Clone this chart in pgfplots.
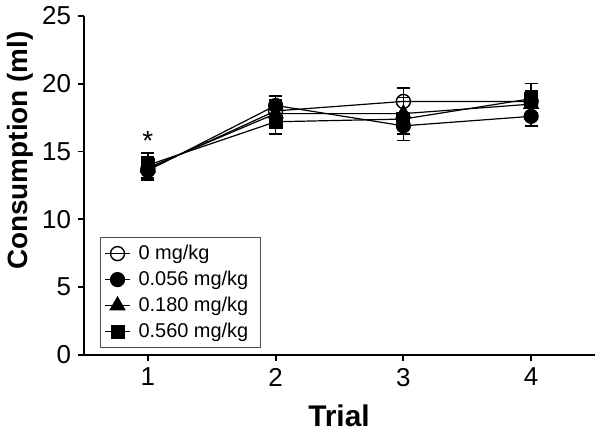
\documentclass[border=0pt]{standalone}
\usepackage{fontspec}
\setmainfont{Liberation Sans}
\usepackage{pgfplots}
\pgfplotsset{compat=1.18}
\begin{document}
\begin{tikzpicture}
\useasboundingbox (0,0) rectangle (301bp,218bp);
\begin{axis}[
  at={(42bp,40.5bp)}, anchor=south west,
  scale only axis, width=255.5bp, height=169.5bp,
  xmin=0.5, xmax=4.5, ymin=0, ymax=25,
  axis x line=bottom, axis y line=left,
  axis line style={-, line width=1bp},
  xtick={1,2,3,4}, ytick={0,5,10,15,20,25},
  tick align=outside, major tick length=3bp,
  tick style={line width=0.9bp, black},
  /pgf/number format/assume math mode=true,
  ticklabel style={font=\fontsize{13}{15}\selectfont},
  xlabel={\textbf{Trial}}, ylabel={\textbf{Consumption (ml)}},
  xlabel style={at={(axis description cs:0.499,-0.18)}, anchor=center, font=\fontsize{15}{17}\selectfont},
  ylabel style={at={(axis description cs:-0.125,0.603)}, anchor=center, rotate=0, font=\fontsize{14}{16}\selectfont},
  legend style={at={(axis description cs:0.031,0.021)}, anchor=south west,
    font=\fontsize{10}{12}\selectfont, draw=black!70, line width=0.6bp,
    row sep=0.3bp, inner xsep=2bp, inner ysep=1.5bp,
    nodes={inner xsep=4bp}},
  legend cell align=left,
  legend image code/.code={\draw[mark repeat=2,mark phase=2] plot coordinates {(0cm,0cm)(0.22cm,0cm)(0.44cm,0cm)};},
  error bars/error bar style={line width=0.7bp, black},
  error bars/error mark options={rotate=90, mark size=3.3bp, line width=0.7bp, black},
]
\addplot[black, line width=0.6bp, mark=o, mark size=3.5bp, mark options={solid, fill=white, line width=0.7bp},
  error bars/.cd, y dir=both, y explicit]
  coordinates {(1,13.7) +- (0,0.8) (2,18.0) +- (0,0.8) (3,18.7) +- (0,1.0) (4,18.7) +- (0,0.8)};
\addlegendentry{0 mg/kg}
\addplot[black, line width=0.6bp, mark=*, mark size=3.5bp, mark options={solid, fill=black},
  error bars/.cd, y dir=both, y explicit]
  coordinates {(1,13.6) +- (0,0.7) (2,18.4) +- (0,0.7) (3,16.9) +- (0,0.6) (4,17.6) +- (0,0.7)};
\addlegendentry{0.056 mg/kg}
\addplot[black, line width=0.6bp, mark=triangle*, mark size=4.2bp, mark options={solid, fill=black},
  error bars/.cd, y dir=both, y explicit]
  coordinates {(1,13.8) +- (0,0.8) (2,17.8) +- (0,0.8) (3,17.8) +- (0,0.9) (4,18.5) +- (0,0.9)};
\addlegendentry{0.180 mg/kg}
\addplot[black, line width=0.6bp, mark=square*, mark size=3.2bp, mark options={solid, fill=black},
  error bars/.cd, y dir=both, y explicit]
  coordinates {(1,14.0) +- (0,0.9) (2,17.2) +- (0,0.9) (3,17.4) +- (0,1.6) (4,18.9) +- (0,1.1)};
\addlegendentry{0.560 mg/kg}
\node[font=\fontsize{14}{16}\selectfont] at (axis cs:1,15.8) {*};
\end{axis}
\end{tikzpicture}
\end{document}
